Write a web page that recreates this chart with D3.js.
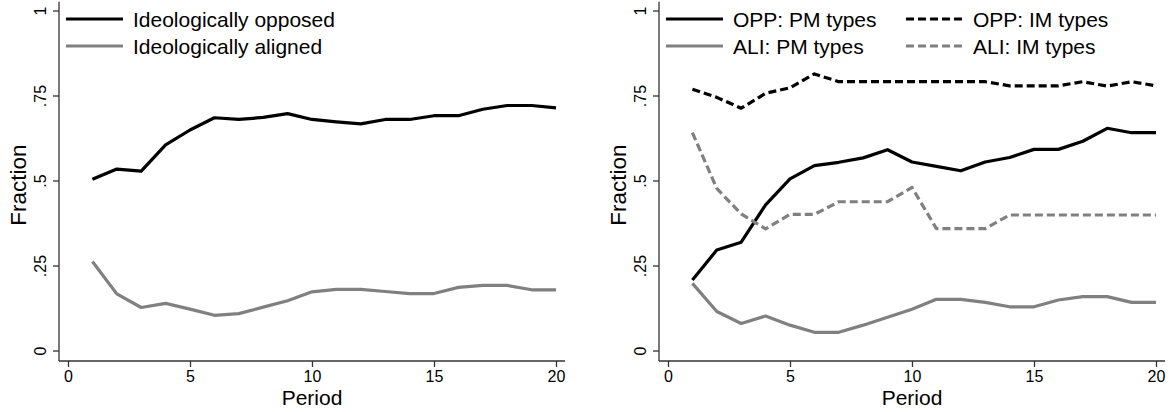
<!DOCTYPE html>
<html><head><meta charset="utf-8">
<script src="https://cdn.jsdelivr.net/npm/d3@7"></script>
<style>body{margin:0;background:#fff}svg{display:block}text{font-family:"Liberation Sans",Arial,Helvetica,sans-serif}</style>
</head><body><svg id="c" width="1174" height="412"></svg>
<script>
const periods = d3.range(1, 21);
const opposed = [0.505,0.535,0.529,0.606,0.65,0.686,0.681,0.687,0.698,0.681,0.674,0.668,0.681,0.681,0.692,0.692,0.711,0.722,0.722,0.715];
const aligned = [0.263,0.168,0.128,0.140,0.123,0.105,0.110,0.129,0.148,0.174,0.181,0.181,0.175,0.169,0.169,0.187,0.193,0.193,0.180,0.180];
const oppPM = [0.209,0.297,0.320,0.430,0.506,0.545,0.555,0.568,0.592,0.556,0.543,0.530,0.556,0.569,0.593,0.593,0.617,0.655,0.642,0.642];
const oppIM = [0.770,0.746,0.714,0.758,0.774,0.815,0.792,0.792,0.792,0.792,0.792,0.792,0.792,0.780,0.780,0.780,0.792,0.779,0.792,0.780];
const aliPM = [0.199,0.116,0.081,0.103,0.076,0.055,0.055,0.076,0.099,0.123,0.152,0.152,0.143,0.130,0.130,0.150,0.160,0.160,0.143,0.143];
const aliIM = [0.642,0.478,0.403,0.359,0.402,0.402,0.439,0.439,0.439,0.481,0.360,0.360,0.360,0.400,0.400,0.400,0.400,0.400,0.400,0.400];
const xTicks = [0,5,10,15,20];
const yTicks = [0,0.25,0.5,0.75,1];
const yTickLabels = ["0",".25",".5",".75","1"];

const svg = d3.select("#c");
const GRAY = "#808080";
const FS_LEG = 21, FS_TICK = 16;

function panel(x0, series, legend) {
  const g = svg.append("g").attr("transform", `translate(${x0},0)`);
  const x = d3.scaleLinear().domain([0,20]).range([68,556]);
  const y = d3.scaleLinear().domain([0,1]).range([351,11]);
  const axisColor = "#333";
  g.append("line").attr("x1",59).attr("x2",59).attr("y1",y(1.027)).attr("y2",361).attr("stroke",axisColor).attr("stroke-width",1.3);
  g.append("line").attr("x1",59).attr("x2",565).attr("y1",361).attr("y2",361).attr("stroke",axisColor).attr("stroke-width",1.3);
  const ya = g.append("g").attr("transform","translate(59,0)")
    .call(d3.axisLeft(y).tickValues(yTicks).tickSize(6).tickFormat((d,i)=>yTickLabels[i]));
  ya.select(".domain").remove();
  ya.selectAll(".tick").attr("transform","translate(0,0)");
  ya.selectAll(".tick line").attr("y1", d=>y(d)).attr("y2", d=>y(d)).attr("stroke",axisColor).attr("stroke-width",1.3);
  ya.selectAll("text").attr("font-size",FS_TICK).attr("fill","#000")
    .attr("transform", d=>`translate(-19,${y(d)}) rotate(-90)`).attr("x",0).attr("y",0).attr("dy","0.35em")
    .attr("text-anchor","middle").attr("font-family",'"Liberation Sans",Arial,sans-serif');
  const xa = g.append("g").attr("transform","translate(0,361)")
    .call(d3.axisBottom(x).tickValues(xTicks).tickSize(6));
  xa.select(".domain").remove();
  xa.selectAll("line").attr("stroke",axisColor).attr("stroke-width",1.3);
  xa.selectAll("text").attr("font-size",FS_TICK).attr("fill","#000").attr("dy","0.71em").attr("y",10)
    .attr("font-family",'"Liberation Sans",Arial,sans-serif');
  g.append("text").attr("x",312).attr("y",405).attr("text-anchor","middle").attr("font-size",21).text("Period");
  g.append("text").attr("transform",`translate(26,${y(0.5)+4}) rotate(-90)`).attr("text-anchor","middle").attr("font-size",22.5).text("Fraction");
  const line = d3.line().x((d,i)=>x(periods[i])).y(d=>y(d));
  series.forEach(s=>{
    g.append("path").datum(s.values).attr("d",line).attr("fill","none")
      .attr("stroke",s.color).attr("stroke-width",3.2).attr("stroke-linejoin","round")
      .attr("stroke-dasharray",s.dash||null);
  });
  legend.forEach(l=>{
    const s = series[l.s];
    g.append("line").attr("x1",l.x).attr("x2",l.x+57).attr("y1",l.y).attr("y2",l.y)
      .attr("stroke",s.color).attr("stroke-width",3.2).attr("stroke-dasharray",s.dash||null);
    g.append("text").attr("x",l.x+67).attr("y",l.y).attr("dy","0.36em").attr("font-size",FS_LEG).text(s.name);
  });
}

panel(0, [
  {name:"Ideologically opposed", values:opposed, color:"#000"},
  {name:"Ideologically aligned", values:aligned, color:GRAY}
], [{s:0,x:66,y:19},{s:1,x:66,y:46}]);

panel(600, [
  {name:"OPP: PM types", values:oppPM, color:"#000"},
  {name:"OPP: IM types", values:oppIM, color:"#000", dash:"8,4"},
  {name:"ALI: PM types", values:aliPM, color:GRAY},
  {name:"ALI: IM types", values:aliIM, color:GRAY, dash:"8,4"}
], [{s:0,x:66,y:19},{s:1,x:306,y:19},{s:2,x:66,y:46},{s:3,x:306,y:46}]);
</script></body></html>
